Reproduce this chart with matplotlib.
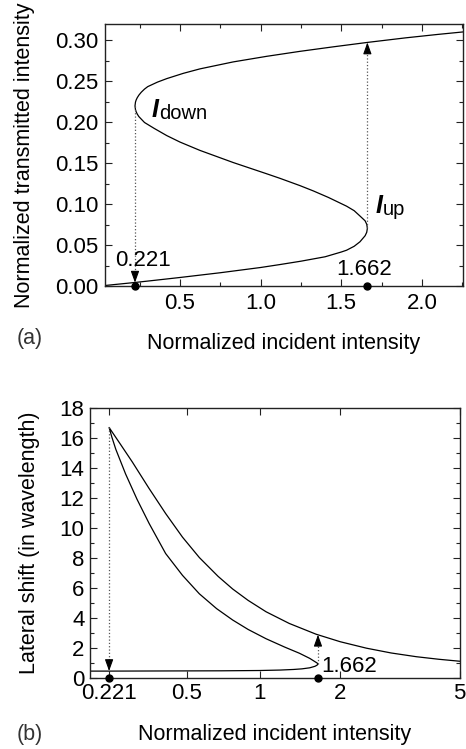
import numpy as np
import matplotlib
matplotlib.use("Agg")
import matplotlib.pyplot as plt
from matplotlib.ticker import MultipleLocator, FixedLocator, NullFormatter

plt.rcParams['font.family'] = ['Liberation Sans', 'DejaVu Sans']

# ---------------- data ----------------
# (a) transmitted intensity vs incident intensity (S-shaped bistable curve)
top_x = [0.035, 0.10, 0.221, 0.35, 0.50, 0.75, 1.00, 1.12, 1.25, 1.40, 1.50, 1.533, 1.58, 1.616, 1.648, 1.658, 1.662,
         1.658, 1.648, 1.616, 1.58, 1.533, 1.42, 1.326, 1.244, 1.12, 1.037, 0.83, 0.624, 0.50, 0.418, 0.34, 0.28,
         0.245, 0.235, 0.228, 0.224, 0.221,
         0.224, 0.228, 0.235, 0.245, 0.26, 0.28, 0.30, 0.36, 0.418, 0.52, 0.624, 0.83, 1.037, 1.244, 1.45, 1.662,
         1.90, 2.10, 2.26]
top_y = [0.0006, 0.0019, 0.0043, 0.0071, 0.0104, 0.0162, 0.0226, 0.0262, 0.0303, 0.0357, 0.0415, 0.0437, 0.0485,
         0.054, 0.0614, 0.0656, 0.0705,
         0.0754, 0.0796, 0.0855, 0.092, 0.0975, 0.1082, 0.1162, 0.1226, 0.1315, 0.1371, 0.1508, 0.1656, 0.1758,
         0.1837, 0.1925, 0.1997, 0.2069, 0.2100, 0.2129, 0.2154, 0.2200,
         0.2246, 0.2271, 0.2300, 0.2331, 0.2367, 0.2405, 0.2435, 0.2490, 0.2533, 0.2597, 0.2652, 0.2737, 0.2805,
         0.2866, 0.2921, 0.2975, 0.3031, 0.3073, 0.3104]

# (b) lateral shift vs incident intensity
bot_x = [0.178, 0.221, 0.40, 0.70, 1.00, 1.20, 1.35, 1.45, 1.55, 1.62, 1.65, 1.662,
         1.65, 1.62, 1.55, 1.42, 1.25, 1.059, 0.90, 0.78, 0.67, 0.567, 0.48, 0.4045, 0.341, 0.30, 0.265, 0.238,
         0.228, 0.221,
         0.25, 0.285, 0.34, 0.4045, 0.48, 0.567, 0.68, 0.78, 0.90, 1.059, 1.30, 1.637, 2.0, 2.471, 3.0, 3.64, 4.3, 5.0]
bot_y = [0.44, 0.44, 0.45, 0.46, 0.48, 0.51, 0.55, 0.59, 0.66, 0.76, 0.84, 0.92,
         0.98, 1.07, 1.29, 1.63, 2.04, 2.60, 3.22, 3.85, 4.61, 5.60, 6.83, 8.29, 10.29, 11.9, 13.6, 15.25,
         16.05, 16.7,
         15.6, 14.4, 12.65, 10.96, 9.38, 8.02, 6.76, 5.92, 5.16, 4.40, 3.62, 2.90, 2.40, 1.97, 1.65, 1.40, 1.23, 1.10]

i_down = 0.221
i_up = 1.662
top_down_from, top_down_to = 0.220, 0.004
top_up_from, top_up_to = 0.0705, 0.2975
bot_down_from, bot_down_to = 16.7, 0.44
bot_up_from, bot_up_to = 0.92, 2.87

top_xticks = [0.5, 1.0, 1.5, 2.0]
top_yticks = [0.00, 0.05, 0.10, 0.15, 0.20, 0.25, 0.30]
bot_xticks = [0.221, 0.5, 1, 2, 5]
bot_xticklabels = ['0.221', '0.5', '1', '2', '5']
bot_yticks = list(range(0, 19, 2))

# ---------------- figure ----------------
W, H = 466, 749
fig = plt.figure(figsize=(W / 100, H / 100), dpi=100)

def frac(l, t, r, b):
    return [l / W, 1 - b / H, (r - l) / W, (b - t) / H]

ax1 = fig.add_axes(frac(105, 24, 463, 286))
ax2 = fig.add_axes(frac(90, 408, 459.5, 677.7))

TS = 16
LS = 15.5
dotcol = '#555555'

def style(ax):
    for s in ax.spines.values():
        s.set_linewidth(1.0)
        s.set_color('#222222')
    ax.tick_params(which='both', direction='in', top=True, right=True, width=0.8, color='#222222')
    ax.tick_params(which='major', length=5, labelsize=TS)
    ax.tick_params(which='minor', length=3)

ARROW = dict(arrowstyle='-|>,head_length=0.5,head_width=0.18', mutation_scale=14,
             color='k', lw=0.8, shrinkA=0, shrinkB=0)

# ---- (a) ----
ax1.plot(top_x, top_y, color='k', lw=0.9)
ax1.set_xlim(0.035, 2.255)
ax1.set_ylim(0, 0.32)
ax1.set_xticks(top_xticks)
ax1.set_xticklabels([f'{v:.1f}' for v in top_xticks])
ax1.set_yticks(top_yticks)
ax1.set_yticklabels([f'{v:.2f}' for v in top_yticks])
ax1.xaxis.set_minor_locator(MultipleLocator(0.25))
ax1.yaxis.set_minor_locator(MultipleLocator(0.025))
style(ax1)
ax1.tick_params(axis='y', pad=5)
ax1.tick_params(axis='x', pad=5)
ax1.set_xlabel('Normalized incident intensity', fontsize=LS)
ax1.set_ylabel('Normalized transmitted intensity', fontsize=LS)
ax1.xaxis.set_label_coords(0.5, -0.18)
ax1.yaxis.set_label_coords(-0.195, 0.5)

ax1.plot([i_down, i_down], [top_down_from, top_down_to + 0.01], ls=':', color=dotcol, lw=0.9)
ax1.plot([i_up, i_up], [top_up_from, top_up_to - 0.01], ls=':', color=dotcol, lw=0.9)
ax1.annotate('', xy=(i_down, top_down_to), xytext=(0, 8), textcoords='offset points', arrowprops=ARROW)
ax1.annotate('', xy=(i_up, top_up_to), xytext=(0, -8), textcoords='offset points', arrowprops=ARROW)
ax1.plot([i_down, i_up], [0, 0], 'o', ms=5, color='k', clip_on=False, zorder=6)
ax1.text(0.268, 0.025, '0.221', fontsize=TS, ha='center', va='baseline')
ax1.text(1.644, 0.013, '1.662', fontsize=TS, ha='center', va='baseline')
ax1.text(0.326, 0.2066, 'I', fontsize=18, fontweight='bold', fontstyle='italic', va='baseline')
ax1.text(0.37, 0.204, 'down', fontsize=14.5, va='baseline')
ax1.text(1.715, 0.089, 'I', fontsize=18, fontweight='bold', fontstyle='italic', va='baseline')
ax1.text(1.758, 0.0865, 'up', fontsize=14.5, va='baseline')

# ---- (b) ----
P = 0.14
def fwd(x):
    return np.power(np.clip(x, 1e-9, None), P)
def inv(u):
    return np.power(np.clip(u, 1e-9, None), 1.0 / P)

ax2.set_xscale('function', functions=(fwd, inv))
ax2.plot(bot_x, bot_y, color='k', lw=0.9)
ax2.set_xlim(0.178, 5.0)
ax2.set_ylim(0, 18)
ax2.xaxis.set_major_locator(FixedLocator(bot_xticks))
ax2.set_xticklabels(bot_xticklabels)
ax2.xaxis.set_minor_locator(FixedLocator([]))
ax2.xaxis.set_minor_formatter(NullFormatter())
ax2.set_yticks(bot_yticks)
ax2.yaxis.set_minor_locator(MultipleLocator(1))
style(ax2)
ax2.tick_params(axis='y', pad=4)
ax2.tick_params(axis='x', pad=4)
ax2.set_xlabel('Normalized incident intensity', fontsize=LS)
ax2.set_ylabel('Lateral shift (in wavelength)', fontsize=LS)
ax2.xaxis.set_label_coords(0.5, -0.17)
ax2.yaxis.set_label_coords(-0.135, 0.5)

ax2.plot([i_down, i_down], [bot_down_from, bot_down_to + 0.6], ls=':', color=dotcol, lw=0.9)
ax2.plot([i_up, i_up], [bot_up_from, bot_up_to - 0.6], ls=':', color=dotcol, lw=0.9)
ax2.annotate('', xy=(i_down, bot_down_to), xytext=(0, 8), textcoords='offset points', arrowprops=ARROW)
ax2.annotate('', xy=(i_up, bot_up_to), xytext=(0, -8), textcoords='offset points', arrowprops=ARROW)
ax2.plot([i_down, i_up], [0, 0], 'o', ms=5, color='k', clip_on=False, zorder=6)
ax2.text(1.712, 0.38, '1.662', fontsize=TS, ha='left', va='baseline')

fig.text(17 / W, 1 - 344 / H, '(a)', fontsize=LS, va='baseline', color='#333333')
fig.text(17 / W, 1 - 740 / H, '(b)', fontsize=LS, va='baseline', color='#333333')

fig.savefig('out.png', dpi=100)
